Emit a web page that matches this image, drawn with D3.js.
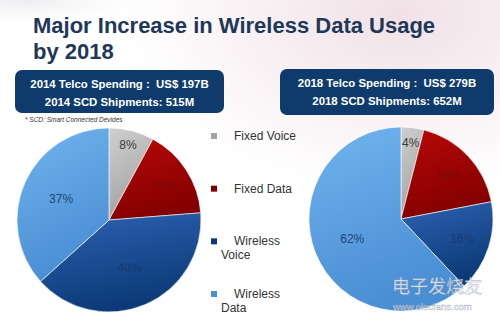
<!DOCTYPE html>
<html>
<head>
<meta charset="utf-8">
<script src="https://cdn.jsdelivr.net/npm/d3@7"></script>
<style>
  html, body { margin: 0; padding: 0; background: #fff; }
  svg { display: block; font-family: "Liberation Sans", Arial, sans-serif; }
</style>
</head>
<body>
<div id="container"></div>
<script>

let w = 500;
let h = 322;

// data
let categories = ["Fixed Voice", "Fixed Data", "Wireless Voice", "Wireless Data"];
let share2014 = [8, 16, 40, 37];
let share2018 = [4, 18, 16, 62];
let legendLines = [["Fixed Voice"], ["Fixed Data"], ["Wireless", "Voice"], ["Wireless", "Data"]];
let box2014 = ["2014 Telco Spending :  US$ 197B", "2014 SCD Shipments: 515M"];
let box2018 = ["2018 Telco Spending :  US$ 279B", "2018 SCD Shipments: 652M"];
let titleLines = ["Major Increase in Wireless Data Usage", "by 2018"];
let footnote = "* SCD: Smart Connected Devides";

let sliceTop = ["#cfcfcf", "#b80808", "#2e62b2", "#70b4ee"];
let sliceBottom = ["#a3a3a3", "#840000", "#0c3a78", "#4a8ed4"];
let labelColor = ["#3a3a3a", "#7a0a0a", "#173a70", "#1f4474"];

let viz = d3.select("#container")
  .append("svg")
    .attr("width", w)
    .attr("height", h)
;

let defs = viz.append("defs");

// faint background swirl
let bg = defs.append("radialGradient").attr("id", "bgPink")
  .attr("cx", "0.8").attr("cy", "0.05").attr("r", "0.55");
bg.append("stop").attr("offset", "0").attr("stop-color", "#f1e1e6");
bg.append("stop").attr("offset", "1").attr("stop-color", "#ffffff");
viz.append("rect").attr("width", w).attr("height", h).attr("fill", "url(#bgPink)");

let bg2 = defs.append("radialGradient").attr("id", "bgGrey")
  .attr("cx", "0.05").attr("cy", "0.02").attr("r", "0.3");
bg2.append("stop").attr("offset", "0").attr("stop-color", "#e9e9ec").attr("stop-opacity", 0.8);
bg2.append("stop").attr("offset", "1").attr("stop-color", "#ffffff").attr("stop-opacity", 0);
viz.append("rect").attr("width", w).attr("height", 90).attr("fill", "url(#bgGrey)");

// slice gradients
categories.forEach(function(c, i){
  let g = defs.append("linearGradient").attr("id", "grad" + i)
    .attr("x1", 0).attr("y1", 0).attr("x2", 0.3).attr("y2", 1);
  g.append("stop").attr("offset", "0").attr("stop-color", sliceTop[i]);
  g.append("stop").attr("offset", "1").attr("stop-color", sliceBottom[i]);
});

//title
let title = viz.append("g").attr("class", "title");
title.selectAll("text").data(titleLines).enter().append("text")
  .attr("x", 33)
  .attr("y", function(d, i){ return 33 + i * 26; })
  .attr("fill", "#1e3857")
  .attr("font-size", 22)
  .attr("font-weight", "bold")
  .text(function(d){ return d; });

//the navy boxes
function drawBox(lines, x, y, bw, bh){
  let g = viz.append("g").attr("transform", "translate(" + x + "," + y + ")");
  g.append("rect")
    .attr("width", bw).attr("height", bh)
    .attr("rx", 7).attr("ry", 7)
    .attr("fill", "#0f3b6c");
  g.selectAll("text").data(lines).enter().append("text")
    .attr("x", bw / 2)
    .attr("y", function(d, i){ return 18 + i * 18; })
    .attr("text-anchor", "middle")
    .attr("fill", "#ffffff")
    .attr("font-size", 11.4)
    .attr("font-weight", "bold")
    .style("white-space", "pre")
    .text(function(d){ return d; });
}
drawBox(box2014, 15, 70, 209, 43);
drawBox(box2018, 280, 69, 214, 46);

viz.append("text")
  .attr("x", 25).attr("y", 122)
  .attr("font-size", 6.5)
  .attr("font-style", "italic")
  .attr("fill", "#333")
  .text(footnote);

//pies
let r = 92;
let pie = d3.pie().sort(null).value(function(d){ return d; });
let arc = d3.arc().innerRadius(0).outerRadius(r);

function labelArc(d, total){
  let frac = d.value / total;
  let k = frac < 0.1 ? 0.84 : (frac < 0.3 ? 0.7 : 0.57);
  return d3.arc().innerRadius(r * k).outerRadius(r * k).centroid(d);
}

function drawPie(values, cx, cy){
  let total = d3.sum(values);
  let g = viz.append("g").attr("transform", "translate(" + cx + "," + cy + ")");
  let slices = pie(values);
  g.selectAll("path").data(slices).enter().append("path")
    .attr("d", arc)
    .attr("fill", function(d, i){ return "url(#grad" + i + ")"; })
    .attr("stroke", "#ffffff")
    .attr("stroke-width", 0.6);
  g.selectAll("text").data(slices).enter().append("text")
    .attr("transform", function(d){ return "translate(" + labelArc(d, total) + ")"; })
    .attr("dy", "0.35em")
    .attr("text-anchor", "middle")
    .attr("font-size", 12)
    .attr("fill", function(d, i){ return labelColor[i]; })
    .text(function(d){ return d.value + "%"; });
}
drawPie(share2014, 109, 220);
drawPie(share2018, 401, 219);

//legend
let legendY = d3.scalePoint().domain(categories).range([136, 294]);
let legend = viz.append("g").attr("class", "legend");
let items = legend.selectAll("g").data(categories).enter().append("g")
  .attr("transform", function(d){ return "translate(0," + legendY(d) + ")"; });
items.append("rect")
  .attr("x", 211).attr("y", -3)
  .attr("width", 6).attr("height", 6)
  .attr("fill", function(d, i){ return sliceBottom[i]; });
items.each(function(d, i){
  d3.select(this).selectAll("text").data(legendLines[i]).enter().append("text")
    .attr("x", function(t, j){ return j == 0 ? 234 : 221; })
    .attr("y", function(t, j){ return 4 + j * 14; })
    .attr("font-size", 12)
    .attr("fill", "#333")
    .text(function(t){ return t; });
});

//watermark
let wm = viz.append("g").attr("opacity", 0.85);
wm.append("text")
  .attr("x", 392).attr("y", 293)
  .attr("font-family", "Noto Sans CJK SC")
  .attr("font-size", 18)
  .attr("fill", "#ffffff")
  .attr("stroke", "#9aa4b0").attr("stroke-width", 0.5)
  .text("电子发烧友");
wm.append("text")
  .attr("x", 393).attr("y", 310)
  .attr("font-size", 9.5)
  .attr("fill", "#ffffff")
  .attr("stroke", "#9aa4b0").attr("stroke-width", 0.4)
  .text("www.elecfans.com");

</script>
</body>
</html>
